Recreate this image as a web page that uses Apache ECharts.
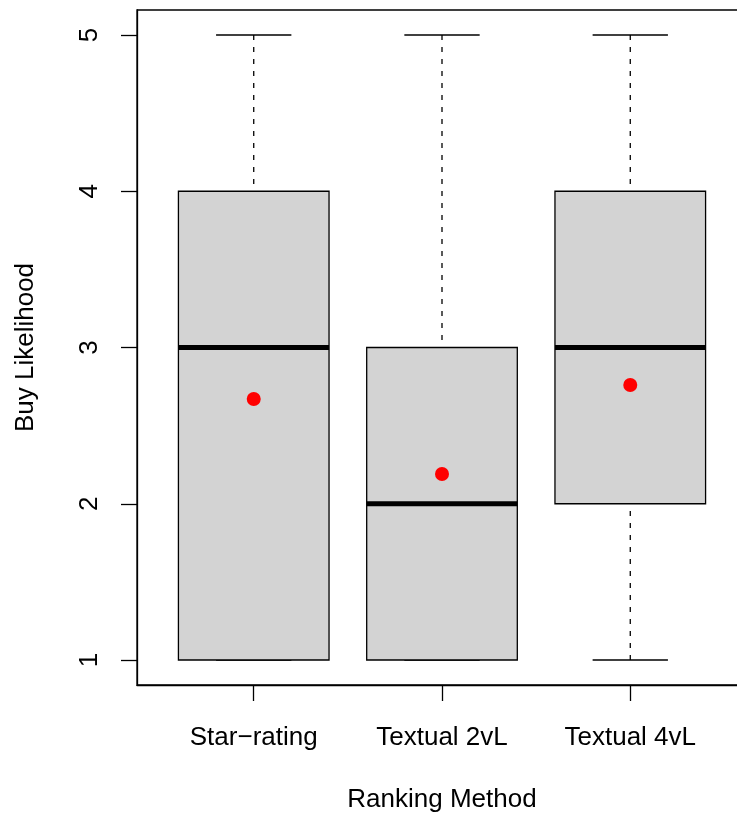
<!DOCTYPE html>
<html>
<head>
<meta charset="utf-8">
<script src="https://cdn.jsdelivr.net/npm/echarts@6/dist/echarts.min.js"></script>
<style>
  html, body { margin: 0; padding: 0; background: #fff; }
  #chart { width: 737px; height: 816px; }
</style>
</head>
<body>
<div id="chart"></div>
<script>
// Ranking methods along the x axis (positions 1..3)
const methods = ['Star\u2212rating', 'Textual 2vL', 'Textual 4vL'];
// Five-number summaries of buy likelihood per method
const whiskerLow  = [1, 1, 1];
const quartile1   = [1, 1, 2];
const medians     = [3, 2, 3];
const quartile3   = [4, 3, 4];
const whiskerHigh = [5, 5, 5];
// Group means, drawn as red dots
const means = [2.67, 2.19, 2.76];
// Y tick values / labels
const yTicks = [1, 2, 3, 4, 5];

const FONT = "'Liberation Sans', Arial, Helvetica, sans-serif";
const LW = 1.3;

const boxData = methods.map((m, i) => [i + 1, whiskerLow[i], quartile1[i], medians[i], quartile3[i], whiskerHigh[i]]);
const meanData = methods.map((m, i) => [i + 1, means[i]]);

const chart = echarts.init(document.getElementById('chart'), null, { renderer: 'canvas' });

function renderBox(params, api) {
  const x = api.value(0);
  const pLo = api.coord([x, api.value(1)]);
  const pQ1 = api.coord([x, api.value(2)]);
  const pMed = api.coord([x, api.value(3)]);
  const pQ3 = api.coord([x, api.value(4)]);
  const pHi = api.coord([x, api.value(5)]);
  const unit = api.size([1, 0])[0];
  const bw = unit * 0.8;   // box width
  const cw = unit * 0.4;   // staple width
  const cx = pMed[0];
  const dash = { stroke: '#000', lineWidth: LW, lineDash: [5, 7] };
  const solid = { stroke: '#000', lineWidth: LW };
  return {
    type: 'group',
    children: [
      // dashed whiskers, drawn outward from the staples
      { type: 'line', shape: { x1: cx, y1: pHi[1], x2: cx, y2: pQ3[1] }, style: dash },
      { type: 'line', shape: { x1: cx, y1: pLo[1], x2: cx, y2: pQ1[1] }, style: dash },
      { type: 'line', shape: { x1: cx - cw / 2, y1: pHi[1], x2: cx + cw / 2, y2: pHi[1] }, style: solid },
      { type: 'line', shape: { x1: cx - cw / 2, y1: pLo[1], x2: cx + cw / 2, y2: pLo[1] }, style: solid },
      { type: 'rect', shape: { x: cx - bw / 2, y: pQ3[1], width: bw, height: pQ1[1] - pQ3[1] },
        style: { fill: '#D3D3D3', stroke: '#000', lineWidth: LW } },
      { type: 'line', shape: { x1: cx - bw / 2, y1: pMed[1], x2: cx + bw / 2, y2: pMed[1] },
        style: { stroke: '#000', lineWidth: 5 } }
    ]
  };
}

chart.setOption({
  animation: false,
  backgroundColor: '#fff',
  grid: {
    left: 137, top: 10, width: 610, height: 675,
    outerBoundsMode: 'none',
    show: true, borderColor: '#000', borderWidth: LW, backgroundColor: 'transparent'
  },
  xAxis: {
    type: 'value', min: 0.38, max: 3.62,
    name: 'Ranking Method', nameLocation: 'middle', nameGap: 102,
    nameTextStyle: { fontFamily: FONT, fontSize: 26, color: '#000' },
    axisLine: { show: true, lineStyle: { color: '#000', width: LW } },
    axisTick: { show: true, length: 16, customValues: [1, 2, 3], lineStyle: { color: '#000', width: LW } },
    axisLabel: {
      customValues: [1, 2, 3], margin: 40,
      formatter: v => methods[Math.round(v) - 1],
      fontFamily: FONT, fontSize: 26, color: '#000'
    },
    splitLine: { show: false }
  },
  yAxis: {
    type: 'value', min: 0.84, max: 5.16,
    name: 'Buy Likelihood', nameLocation: 'middle', nameGap: 98,
    nameTextStyle: { fontFamily: FONT, fontSize: 26, color: '#000' },
    axisLine: { show: true, lineStyle: { color: '#000', width: LW } },
    axisTick: { show: true, length: 16, customValues: yTicks, lineStyle: { color: '#000', width: LW } },
    axisLabel: {
      customValues: yTicks, rotate: 90, margin: 34,
      formatter: v => String(v),
      fontFamily: FONT, fontSize: 26, color: '#000'
    },
    splitLine: { show: false }
  },
  series: [
    {
      type: 'custom',
      renderItem: renderBox,
      encode: { x: 0, y: [1, 2, 3, 4, 5] },
      data: boxData,
      z: 2
    },
    {
      type: 'scatter',
      data: meanData,
      symbol: 'circle',
      symbolSize: 14,
      itemStyle: { color: '#FF0000', opacity: 1 },
      z: 3
    }
  ]
});
</script>
</body>
</html>
